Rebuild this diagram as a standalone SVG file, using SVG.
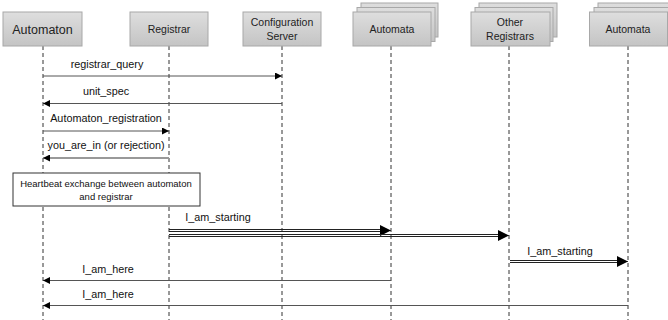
<svg xmlns="http://www.w3.org/2000/svg" width="668" height="320" viewBox="0 0 668 320">
<defs>
<linearGradient id="g" x1="0" y1="0" x2="0" y2="1">
<stop offset="0" stop-color="#dedede"/>
<stop offset="1" stop-color="#c4c4c4"/>
</linearGradient>
<marker id="ah" viewBox="0 0 10 10" refX="10" refY="5" markerWidth="7" markerHeight="7" markerUnits="userSpaceOnUse" orient="auto">
<path d="M0,0 L10,5 L0,10 z" fill="#000"/>
</marker>
<marker id="ahb" viewBox="0 0 10 10" refX="10" refY="5" markerWidth="11" markerHeight="11" markerUnits="userSpaceOnUse" orient="auto">
<path d="M0,0 L10,5 L0,10 z" fill="#000"/>
</marker>
</defs>
<style>
.box{fill:url(#g);stroke:#a8a8a8;stroke-width:1}
.hd{font-family:"Liberation Sans",Arial,sans-serif;font-size:10.5px;fill:#222;text-anchor:middle}
.lbl{font-family:"Liberation Sans",Arial,sans-serif;font-size:10.8px;fill:#111;text-anchor:middle}
.life{stroke:#333;stroke-width:1;stroke-dasharray:4,3;fill:none}
.msg{stroke:#555;stroke-width:1;fill:none}
.dbl{stroke:#222;stroke-width:1;fill:none}
</style>
<rect width="668" height="320" fill="#fff"/>
<g id="lifelines">
<line class="life" x1="43" y1="46" x2="43" y2="320"/>
<line class="life" x1="169" y1="46" x2="169" y2="320"/>
<line class="life" x1="282" y1="46" x2="282" y2="320"/>
<line class="life" x1="391" y1="46" x2="391" y2="320"/>
<line class="life" x1="509" y1="46" x2="509" y2="320"/>
<line class="life" x1="628" y1="46" x2="628" y2="320"/>
</g>
<g id="automaton">
<rect class="box" x="3" y="12" width="79" height="34"/>
<text class="hd" x="42.5" y="34" style="font-size:12.5px">Automaton</text>
</g>
<g id="registrar">
<rect class="box" x="130" y="12" width="78" height="34"/>
<text class="hd" x="169" y="33">Registrar</text>
</g>
<g id="config">
<rect class="box" x="243" y="12" width="78" height="34"/>
<text class="hd" x="282" y="26">Configuration</text>
<text class="hd" x="282" y="40">Server</text>
</g>
<g id="automata1">
<rect class="box" x="361" y="3" width="77" height="34"/>
<rect class="box" x="357" y="7.5" width="78" height="34"/>
<rect class="box" x="353" y="12" width="78" height="34"/>
<text class="hd" x="392" y="33">Automata</text>
</g>
<g id="others">
<rect class="box" x="479" y="3" width="78" height="34"/>
<rect class="box" x="475" y="7.5" width="78" height="34"/>
<rect class="box" x="471" y="12" width="79" height="34"/>
<text class="hd" x="510" y="26">Other</text>
<text class="hd" x="510" y="40">Registrars</text>
</g>
<g id="automata2">
<rect class="box" x="598" y="3" width="78" height="34"/>
<rect class="box" x="594" y="7.5" width="78" height="34"/>
<rect class="box" x="589.5" y="12" width="78" height="34"/>
<text class="hd" x="628" y="33">Automata</text>
</g>
<g id="heartbeat">
<rect x="13" y="173" width="187" height="33" fill="#fff" stroke="#333" stroke-width="1"/>
<text class="lbl" x="106" y="187" style="font-size:9.5px">Heartbeat exchange between automaton</text>
<text class="lbl" x="106" y="200" style="font-size:9.5px">and registrar</text>
</g>
<g id="connectors">
<line class="msg" x1="43" y1="76" x2="282" y2="76" marker-end="url(#ah)"/>
<text class="lbl" x="107" y="68">registrar_query</text>
<line class="msg" x1="282" y1="103.5" x2="43" y2="103.5" marker-end="url(#ah)"/>
<text class="lbl" x="106" y="95">unit_spec</text>
<line class="msg" x1="43" y1="131" x2="169" y2="131" marker-end="url(#ah)"/>
<text class="lbl" x="106" y="122">Automaton_registration</text>
<line x1="169" y1="158" x2="47" y2="158" stroke="#999" stroke-width="2"/>
<line class="msg" x1="50" y1="158" x2="43" y2="158" marker-end="url(#ah)"/>
<text class="lbl" x="106" y="149">you_are_in (or rejection)</text>
<text class="lbl" x="218" y="221">I_am_starting</text>
<line class="dbl" x1="169" y1="229.5" x2="386" y2="229.5"/>
<line class="dbl" x1="169" y1="231.5" x2="386" y2="231.5"/>
<line class="msg" x1="385" y1="230.5" x2="391" y2="230.5" marker-end="url(#ahb)"/>
<line class="dbl" x1="169" y1="234.5" x2="504" y2="234.5"/>
<line class="dbl" x1="169" y1="236.5" x2="504" y2="236.5"/>
<line class="msg" x1="503" y1="235.5" x2="509" y2="235.5" marker-end="url(#ahb)"/>
<text class="lbl" x="560" y="255">I_am_starting</text>
<line class="dbl" x1="510" y1="260.5" x2="623" y2="260.5"/>
<line class="dbl" x1="510" y1="262.5" x2="623" y2="262.5"/>
<line class="msg" x1="622" y1="261.5" x2="628" y2="261.5" marker-end="url(#ahb)"/>
<line class="msg" x1="391" y1="280.5" x2="43" y2="280.5" marker-end="url(#ah)"/>
<text class="lbl" x="108" y="273">I_am_here</text>
<line class="msg" x1="628" y1="305.5" x2="43" y2="305.5" marker-end="url(#ah)"/>
<text class="lbl" x="108" y="298">I_am_here</text>
</g>
</svg>
